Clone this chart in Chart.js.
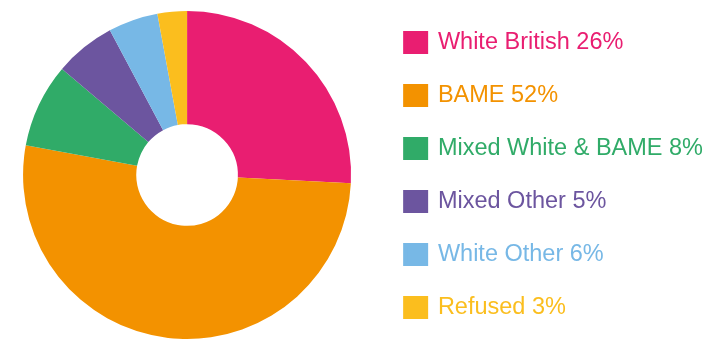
<!DOCTYPE html>
<html>
<head>
<meta charset="utf-8">
<script src="https://cdn.jsdelivr.net/npm/chart.js@4"></script>
<style>
  html, body { margin: 0; padding: 0; background: #fff; overflow: hidden; }
  /* canvas a bit wider and pulled left so the pie sits where the original did */
  #wrap { width: 723px; height: 341px; margin-left: -17px; }
</style>
</head>
<body>
<div id="wrap"><canvas id="ethnicityChart"></canvas></div>
<script>
// legend text as printed on the chart
const labels = ['White British 26%', 'BAME 52%', 'Mixed White & BAME 8%', 'Mixed Other 5%', 'White Other 6%', 'Refused 3%'];
// slice sizes (percent)
const values = [25.8, 52.1, 8.3, 6.0, 4.9, 2.9];
const colours = ['#e91e71', '#f39200', '#30ab68', '#6c559f', '#77b8e6', '#fbbe1e'];

const ctx = document.getElementById('ethnicityChart').getContext('2d');
const ethnicityChart = new Chart(ctx, {
    type: 'doughnut',
    data: {
        labels: labels,
        datasets: [{
            data: values,
            backgroundColor: colours,
            borderWidth: 0
        }]
    },
    options: {
        responsive: true,
        maintainAspectRatio: false,
        animation: false,
        cutout: '31%',
        radius: 164,
        layout: { padding: { top: 9, bottom: 0, left: 0, right: -7 } },
        plugins: {
            tooltip: { enabled: false },
            legend: {
                position: 'right',
                labels: {
                    boxWidth: 21,
                    boxHeight: 19,
                    padding: 14,
                    font: { size: 23.5, lineHeight: 1.66, family: '"Liberation Sans", Arial, sans-serif' },
                    generateLabels: (chart) => {
                        const ds = chart.data.datasets[0];
                        const last = chart.data.labels.length - 1;
                        return chart.data.labels.map((label, i) => ({
                            // array text -> row height follows lineHeight (wider row spacing)
                            text: i === last ? label : [label],
                            fillStyle: ds.backgroundColor[i],
                            strokeStyle: ds.backgroundColor[i],
                            fontColor: ds.backgroundColor[i],
                            lineWidth: 4,
                            hidden: false,
                            index: i
                        }));
                    }
                }
            }
        }
    }
});
</script>
</body>
</html>
